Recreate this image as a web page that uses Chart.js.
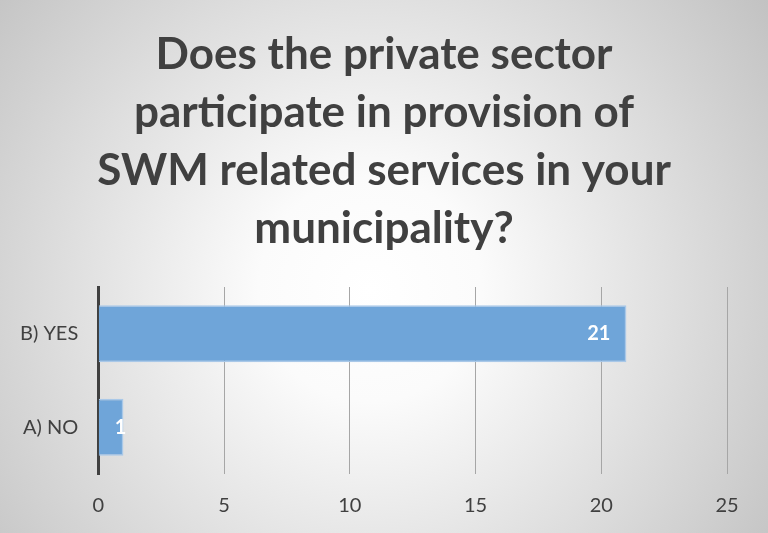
<!DOCTYPE html>
<html>
<head>
<meta charset="utf-8">
<script src="https://cdn.jsdelivr.net/npm/chart.js@4.4.1/dist/chart.umd.min.js"></script>
<style>
    html, body { margin: 0; padding: 0; background: #fff; }
    #wrap { width: 768px; height: 533px; }
</style>
</head>
<body>
<div id="wrap"><canvas id="chart" width="768" height="533"></canvas></div>
<script>
const categories = ['B) YES', 'A) NO'];
const responses = [21, 1];
const titleLines = [
    'Does the private sector',
    'participate in provision of',
    'SWM related services in your',
    'municipality?'
];
const xTicks = [0, 5, 10, 15, 20, 25];

const FONT = 'Lato, "Open Sans", sans-serif';

// radial gray background like the slide
const backgroundPlugin = {
    id: 'slideBackground',
    beforeDraw(chart) {
        const ctx = chart.ctx;
        const w = chart.width, h = chart.height;
        ctx.save();
        const g = ctx.createRadialGradient(370, 290, 0, 370, 290, 560);
        g.addColorStop(0, '#ffffff');
        g.addColorStop(0.2, '#fbfbfb');
        g.addColorStop(1, '#b8b8b8');
        ctx.fillStyle = g;
        ctx.fillRect(0, 0, w, h);
        ctx.restore();
    }
};

// title centred on the whole slide, not on the padded chart box
const slideTitlePlugin = {
    id: 'slideTitle',
    afterDraw(chart) {
        const ctx = chart.ctx;
        ctx.save();
        ctx.font = 'bold 44px ' + FONT;
        ctx.fillStyle = '#404040';
        ctx.textAlign = 'center';
        ctx.textBaseline = 'middle';
        titleLines.forEach((line, i) => {
            ctx.fillText(line, chart.width / 2, 55 + i * 58);
        });
        ctx.restore();
    }
};

// value labels drawn at the inside end of each bar
const valueLabelPlugin = {
    id: 'valueLabels',
    afterDatasetsDraw(chart) {
        const ctx = chart.ctx;
        const meta = chart.getDatasetMeta(0);
        ctx.save();
        ctx.font = 'bold 20px ' + FONT;
        ctx.fillStyle = '#ffffff';
        ctx.textAlign = 'right';
        ctx.textBaseline = 'middle';
        meta.data.forEach((bar, i) => {
            const text = String(responses[i]);
            const w = ctx.measureText(text).width;
            const x = Math.max(bar.x - 16, bar.base + 16 + w);
            ctx.fillText(text, x, bar.y);
        });
        ctx.restore();
    }
};

new Chart(document.getElementById('chart'), {
    type: 'bar',
    data: {
        labels: categories,
        datasets: [{
            data: responses,
            backgroundColor: '#6fa5d9',
            borderColor: '#a9c8e8',
            borderWidth: 1.5,
            borderSkipped: 'start',
            barPercentage: 0.61,
            categoryPercentage: 1
        }]
    },
    options: {
        indexAxis: 'y',
        responsive: false,
        animation: false,
        layout: {
            padding: { left: 0, right: 41, top: 287, bottom: -5 }
        },
        plugins: {
            legend: { display: false },
            tooltip: { enabled: false },
            title: { display: false }
        },
        scales: {
            x: {
                min: 0,
                max: 25,
                afterBuildTicks(axis) {
                    axis.ticks = xTicks.map(v => ({ value: v }));
                },
                grid: {
                    color: ctx => ctx.tick && ctx.tick.value === 0 ? 'rgba(0,0,0,0)' : '#a6a6a6',
                    lineWidth: 1,
                    drawTicks: false
                },
                border: { display: false },
                ticks: {
                    color: '#404040',
                    font: { family: FONT, size: 20 },
                    padding: 20
                }
            },
            y: {
                grid: { display: false, drawTicks: false },
                border: { display: true, color: '#404040', width: 3 },
                ticks: {
                    color: '#404040',
                    font: { family: FONT, size: 20 },
                    padding: 20
                }
            }
        }
    },
    plugins: [backgroundPlugin, slideTitlePlugin, valueLabelPlugin]
});
</script>
</body>
</html>
